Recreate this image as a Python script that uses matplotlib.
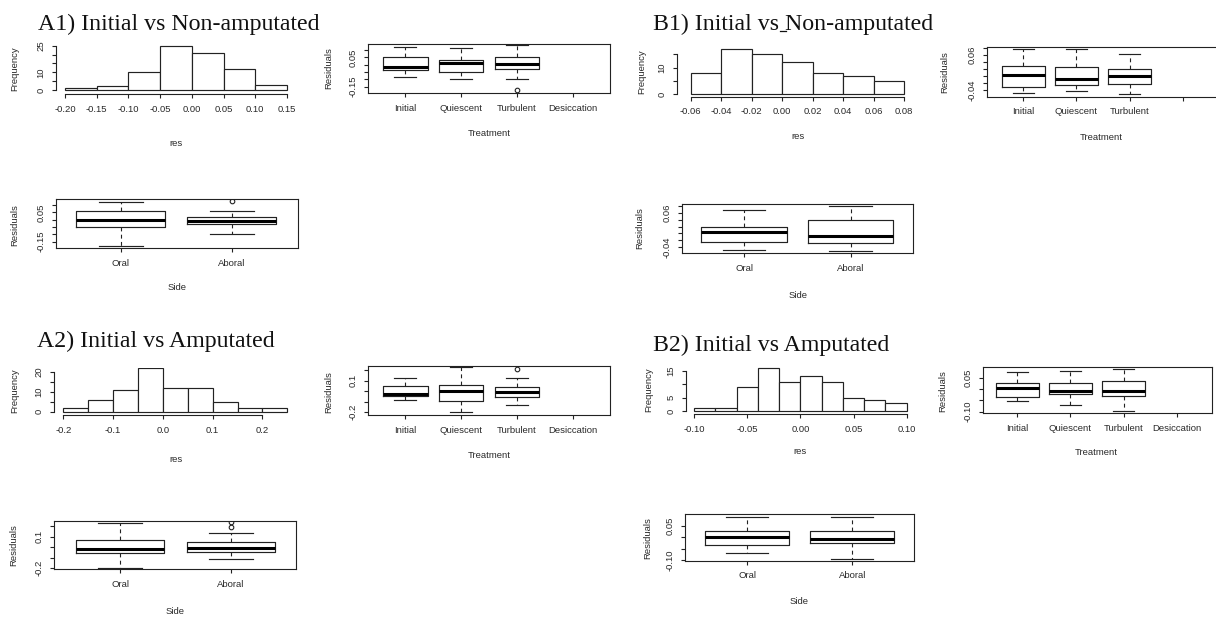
import numpy as np
import matplotlib
matplotlib.use("Agg")
import matplotlib.pyplot as plt
from matplotlib.lines import Line2D

W, H = 1216, 619
SANS = "Liberation Sans"
SERIF = "Liberation Serif"
INK = "#222222"
TXT = "#2a2a2a"
FS = 6.8
plt.rcParams["font.family"] = [SANS, "DejaVu Sans"]

# ---------------- data ----------------
titles = ["A1) Initial vs Non-amputated", "A2) Initial vs Amputated",
          "B1) Initial vs Non-amputated", "B2) Initial vs Amputated"]
treatments = ["Initial", "Quiescent", "Turbulent", "Desiccation"]
sides = ["Oral", "Aboral"]

# histograms of residuals
a1_edges = [-0.20, -0.15, -0.10, -0.05, 0.00, 0.05, 0.10, 0.15]
a1_counts = [1, 2, 10, 25, 21, 12, 3]
a2_edges = [-0.20, -0.15, -0.10, -0.05, 0.00, 0.05, 0.10, 0.15, 0.20, 0.25]
a2_counts = [2, 6, 11, 22, 12, 12, 5, 2, 2]
b1_edges = [-0.06, -0.04, -0.02, 0.00, 0.02, 0.04, 0.06, 0.08]
b1_counts = [8, 17, 15, 12, 8, 7, 5]
b2_edges = [-0.10, -0.08, -0.06, -0.04, -0.02, 0.00, 0.02, 0.04, 0.06, 0.08, 0.10]
b2_counts = [1, 1, 9, 16, 11, 13, 11, 5, 4, 3]

# box plot summaries (median, q1, q3, lower whisker, upper whisker, outliers)
a1_treat_med = [-0.014, 0.014, 0.002]
a1_treat_q1 = [-0.036, -0.050, -0.032]
a1_treat_q3 = [0.050, 0.032, 0.050]
a1_treat_lo = [-0.082, -0.100, -0.095]
a1_treat_hi = [0.123, 0.116, 0.134]
a1_treat_out = [[], [], [-0.175]]

a1_side_med = [-0.002, -0.007]
a1_side_q1 = [-0.048, -0.030]
a1_side_q3 = [0.061, 0.018]
a1_side_lo = [-0.180, -0.100]
a1_side_hi = [0.120, 0.059]
a1_side_out = [[], [0.125]]

a2_treat_med = [-0.024, 0.002, -0.008]
a2_treat_q1 = [-0.043, -0.093, -0.052]
a2_treat_q3 = [0.046, 0.058, 0.039]
a2_treat_lo = [-0.080, -0.194, -0.134]
a2_treat_hi = [0.128, 0.228, 0.121]
a2_treat_out = [[], [], [0.212]]

a2_side_med = [-0.017, -0.005]
a2_side_q1 = [-0.058, -0.046]
a2_side_q3 = [0.068, 0.046]
a2_side_lo = [-0.194, -0.112]
a2_side_hi = [0.225, 0.130]
a2_side_out = [[], [0.194, 0.238]]

b1_treat_med = [0.004, -0.007, 0.000]
b1_treat_q1 = [-0.032, -0.027, -0.023]
b1_treat_q3 = [0.029, 0.026, 0.020]
b1_treat_lo = [-0.050, -0.042, -0.052]
b1_treat_hi = [0.077, 0.079, 0.063]
b1_treat_out = [[], [], []]

b1_side_med = [0.004, -0.007]
b1_side_q1 = [-0.024, -0.029]
b1_side_q3 = [0.018, 0.039]
b1_side_lo = [-0.049, -0.052]
b1_side_hi = [0.069, 0.079]
b1_side_out = [[], []]

b2_treat_med = [0.003, -0.007, -0.009]
b2_treat_q1 = [-0.037, -0.024, -0.029]
b2_treat_q3 = [0.028, 0.025, 0.034]
b2_treat_lo = [-0.051, -0.071, -0.096]
b2_treat_hi = [0.074, 0.081, 0.090]
b2_treat_out = [[], [], []]

b2_side_med = [0.002, -0.007]
b2_side_q1 = [-0.035, -0.024]
b2_side_q3 = [0.028, 0.027]
b2_side_lo = [-0.069, -0.097]
b2_side_hi = [0.089, 0.089]
b2_side_out = [[], []]

# ---------------- helpers ----------------
fig = plt.figure(figsize=(W / 100, H / 100), dpi=100)


def ftext(x, y, s, **kw):
    return fig.text(x / W, 1 - y / H, s, **kw)


def make_ax(box, xmap, ymap):
    L, T, R, B = box
    ax = fig.add_axes([L / W, 1 - B / H, (R - L) / W, (B - T) / H])
    (px1, v1), (px2, v2) = xmap
    s = (v2 - v1) / (px2 - px1)
    ax.set_xlim(v1 + (L - px1) * s, v1 + (R - px1) * s)
    (py1, w1), (py2, w2) = ymap
    t = (w2 - w1) / (py2 - py1)
    ax.set_ylim(w1 + (B - py1) * t, w1 + (T - py1) * t)
    ax.set_facecolor("none")
    return ax


def style_ticks(ax, yticks, ylabels):
    ax.tick_params(direction="out", length=3.2, width=0.8, color=INK,
                   labelsize=FS, labelcolor=TXT, pad=4.4)
    ax.set_yticks(yticks)
    ax.set_yticklabels(ylabels)
    for lab in ax.get_yticklabels():
        lab.set_rotation(90)
        lab.set_va("center")


def hist_panel(box, xmap, ymap, edges, counts, xticks, xlabels, yticks, ylabels):
    ax = make_ax(box, xmap, ymap)
    e = np.array(edges)
    ax.bar(e[:-1], counts, width=np.diff(e), align="edge", color="white",
           edgecolor=INK, linewidth=0.85)
    for sp in ("top", "right"):
        ax.spines[sp].set_visible(False)
    ax.spines["left"].set_bounds(yticks[0], yticks[-1])
    ax.spines["bottom"].set_bounds(xticks[0], xticks[-1])
    for sp in ("left", "bottom"):
        ax.spines[sp].set_linewidth(0.8)
        ax.spines[sp].set_color(INK)
    ax.set_xticks(xticks)
    ax.set_xticklabels(xlabels)
    style_ticks(ax, yticks, ylabels)
    return ax


def box_panel(box, xmap, ymap, cats, med, q1, q3, lo, hi, out, yticks, ylabels,
              hide=()):
    ax = make_ax(box, xmap, ymap)
    stats = [dict(med=m, q1=a, q3=b, whislo=l, whishi=h, fliers=f)
             for m, a, b, l, h, f in zip(med, q1, q3, lo, hi, out)]
    ax.bxp(stats, positions=list(range(1, len(stats) + 1)), widths=0.8,
           capwidths=0.4, manage_ticks=False,
           boxprops=dict(color=INK, linewidth=0.85),
           whiskerprops=dict(color=INK, linewidth=0.8, linestyle=(0, (3.5, 3))),
           capprops=dict(color=INK, linewidth=0.85),
           medianprops=dict(color="black", linewidth=2.2, solid_capstyle="butt"),
           flierprops=dict(marker="o", markerfacecolor="none", markeredgecolor=INK,
                           markersize=3.3, markeredgewidth=0.8))
    for sp in ax.spines.values():
        sp.set_linewidth(0.8)
        sp.set_color(INK)
    ax.set_xticks(list(range(1, len(cats) + 1)))
    ax.set_xticklabels(["" if c in hide else c for c in cats])
    style_ticks(ax, yticks, ylabels)
    return ax


def lab(v, keep, fmt):
    return [fmt.format(x) if any(abs(x - k) < 1e-9 for k in keep) else "" for x in v]


def ylab(x, y, s):
    ftext(x, y, s, rotation=90, ha="center", va="center", fontsize=FS, color=TXT)


def xlab(x, y, s):
    ftext(x, y, s, ha="center", va="center", fontsize=FS, color=TXT)


# ---------------- titles ----------------
title_pos = [(38, 30), (37, 346.5), (653, 30), (653, 351.5)]
for (tx, ty), s in zip(title_pos, titles):
    ftext(tx, ty, s, family=SERIF, fontsize=17.2, ha="left", va="baseline", color="#111111")

# underlined space in the B1 title ("vs_Non")
renderer = fig.canvas.get_renderer()
probe = ftext(title_pos[2][0], title_pos[2][1], "B1) Initial vs", family=SERIF,
              fontsize=17.2, ha="left", va="baseline")
x_end = probe.get_window_extent(renderer).x1
probe.remove()
ul_y = (H - title_pos[2][1] - 1.2)
fig.add_artist(Line2D([(x_end + 0.5) / W, (x_end + 6.5) / W], [ul_y / H, ul_y / H],
                      transform=fig.transFigure, color="#111111", linewidth=0.9))

# ---------------- A1 ----------------
t05 = [-0.20, -0.15, -0.10, -0.05, 0.00, 0.05, 0.10, 0.15]
hist_panel((56, 43, 296, 94), ((65, -0.20), (287, 0.15)), ((90, 0), (45.7, 25)),
           a1_edges, a1_counts, t05, ["{:.2f}".format(v) for v in t05],
           [0, 5, 10, 15, 20, 25], lab([0, 5, 10, 15, 20, 25], [0, 10, 25], "{:.0f}"))
ylab(15, 69, "Frequency")
xlab(176, 143, "res")

yA1 = [-0.15, -0.10, -0.05, 0.00, 0.05, 0.10]
box_panel((368, 44, 610, 93), ((405.3, 1), (572.7, 4)), ((86.7, -0.15), (50, 0.10)),
          treatments, a1_treat_med, a1_treat_q1, a1_treat_q3, a1_treat_lo, a1_treat_hi,
          a1_treat_out, yA1, lab(yA1, [-0.15, 0.05], "{:.2f}"))
ylab(329, 68, "Residuals")
xlab(489, 133, "Treatment")

box_panel((56, 199.3, 297.7, 248.3), ((120.7, 1), (231.7, 2)), ((241.7, -0.15), (205, 0.10)),
          sides, a1_side_med, a1_side_q1, a1_side_q3, a1_side_lo, a1_side_hi,
          a1_side_out, yA1, lab(yA1, [-0.15, 0.05], "{:.2f}"))
ylab(15, 225, "Residuals")
xlab(177, 288, "Side")

# ---------------- A2 ----------------
t1 = [-0.2, -0.1, 0.0, 0.1, 0.2]
hist_panel((54.3, 368, 296, 415), ((63.3, -0.20), (287.3, 0.25)), ((411.7, 0), (371.7, 20)),
           a2_edges, a2_counts, t1, ["{:.1f}".format(v) for v in t1],
           [0, 5, 10, 15, 20], lab([0, 5, 10, 15, 20], [0, 10, 20], "{:.0f}"))
ylab(15, 391, "Frequency")
xlab(176, 459, "res")

box_panel((368.3, 365.7, 610, 415), ((405.3, 1), (572.7, 4)), ((412.3, -0.2), (370, 0.2)),
          treatments, a2_treat_med, a2_treat_q1, a2_treat_q3, a2_treat_lo, a2_treat_hi,
          a2_treat_out, t1, lab(t1, [-0.2, 0.1], "{:.1f}"))
ylab(329, 392, "Residuals")
xlab(489, 455, "Treatment")

box_panel((54.3, 520.7, 296, 569), ((120, 1), (231, 2)), ((568.3, -0.2), (526, 0.2)),
          sides, a2_side_med, a2_side_q1, a2_side_q3, a2_side_lo, a2_side_hi,
          a2_side_out, t1, lab(t1, [-0.2, 0.1], "{:.1f}"))
ylab(13.3, 545, "Residuals")
xlab(175, 611.7, "Side")

# ---------------- B1 ----------------
t02 = [-0.06, -0.04, -0.02, 0.00, 0.02, 0.04, 0.06, 0.08]
hist_panel((677.3, 47, 910, 96.7), ((690.7, -0.06), (904, 0.08)), ((94.3, 0), (67.7, 10)),
           b1_edges, b1_counts, t02, ["{:.2f}".format(v) for v in t02],
           [0, 5, 10, 15], lab([0, 5, 10, 15], [0, 10], "{:.0f}"))
ylab(641.7, 72, "Frequency")
xlab(798, 136.7, "res")

yB1 = [-0.04, -0.02, 0.00, 0.02, 0.04, 0.06, 0.08]
box_panel((987.3, 47.3, 1219, 96.7), ((1023.3, 1), (1182.7, 4)), ((90, -0.04), (48.3, 0.08)),
          treatments, b1_treat_med, b1_treat_q1, b1_treat_q3, b1_treat_lo, b1_treat_hi,
          b1_treat_out, yB1, lab(yB1, [-0.04, 0.06], "{:.2f}"), hide=("Desiccation",))
ylab(945, 72, "Residuals")
xlab(1101.7, 137.3, "Treatment")

box_panel((682.3, 204.3, 913.3, 253.3), ((744, 1), (850.7, 2)), ((247.3, -0.04), (205.7, 0.08)),
          sides, b1_side_med, b1_side_q1, b1_side_q3, b1_side_lo, b1_side_hi,
          b1_side_out, yB1, lab(yB1, [-0.04, 0.06], "{:.2f}"))
ylab(640, 228, "Residuals")
xlab(797.8, 296, "Side")

# ---------------- B2 ----------------
tb2 = [-0.10, -0.05, 0.00, 0.05, 0.10]
hist_panel((686, 366, 915, 414), ((694, -0.10), (906.7, 0.10)), ((411, 0), (371, 15)),
           b2_edges, b2_counts, tb2, ["{:.2f}".format(v) for v in tb2],
           [0, 5, 10, 15], lab([0, 5, 10, 15], [0, 5, 15], "{:.0f}"))
ylab(648.3, 390, "Frequency")
xlab(800, 452, "res")

yB2 = [-0.10, -0.05, 0.00, 0.05]
box_panel((983.3, 367.3, 1211.7, 413.3), ((1017.3, 1), (1176.7, 4)), ((411.7, -0.10), (377.7, 0.05)),
          treatments, b2_treat_med, b2_treat_q1, b2_treat_q3, b2_treat_lo, b2_treat_hi,
          b2_treat_out, yB2, lab(yB2, [-0.10, 0.05], "{:.2f}"))
ylab(943, 391, "Residuals")
xlab(1096.7, 452.3, "Treatment")

box_panel((685, 514, 914, 560.7), ((747.3, 1), (852.3, 2)), ((560, -0.10), (525.7, 0.05)),
          sides, b2_side_med, b2_side_q1, b2_side_q3, b2_side_lo, b2_side_hi,
          b2_side_out, yB2, lab(yB2, [-0.10, 0.05], "{:.2f}"))
ylab(647.7, 538, "Residuals")
xlab(799.5, 601, "Side")

fig.savefig("out.png", dpi=100)
